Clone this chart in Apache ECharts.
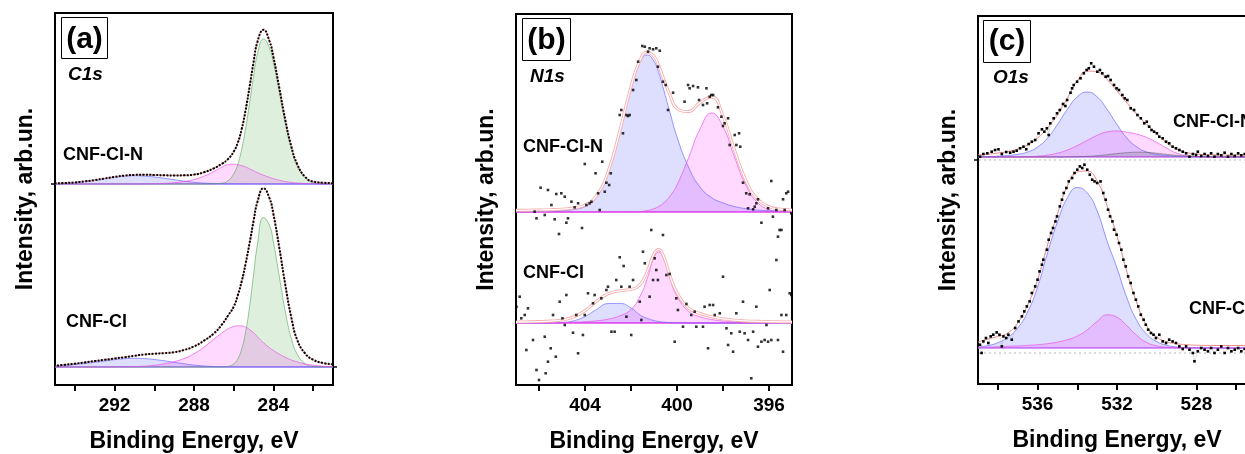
<!DOCTYPE html>
<html><head><meta charset="utf-8">
<script src="https://cdn.jsdelivr.net/npm/echarts@6/dist/echarts.min.js"></script>
<style>html,body{margin:0;padding:0;background:#fff}#c{width:1245px;height:454px}</style>
</head><body><div id="c"></div>
<script>
// ---------- Panel (a) C1s ----------
const xA = [281,281.5,282,282.4,282.8,283.1,283.4,283.7,284,284.2,284.5,284.8,285,285.2,285.4,285.6,285.8,286,286.3,286.6,287,287.5,288,288.5,289,289.5,290,290.5,291,291.5,292,292.5,293,293.5,294,294.5,295];
const aTopEnv   = [0.8,1.3,2.4,7.1,19.7,37.6,63.8,95.7,127,143,154.3,142.4,121.9,97.4,74,54.7,41,32.4,24.6,20.2,15.7,11.7,9.4,8.7,8.6,8.7,9.05,9.2,9.1,8.4,7.1,5.5,3.9,2.6,1.6,1.0,0.6];
const aTopGreen = [0.02,0.22,1.6,6.1,18.2,35.5,60.8,91.5,121.2,135.9,145,130.4,107.8,81.2,55.6,34.6,19.6,10.1,3.1,0.8,0.1,0,0,0,0,0,0,0,0,0,0,0,0,0,0,0,0];
const aTopMag   = [0.05,0.1,0.25,0.5,1.0,1.6,2.5,3.7,5.3,6.6,8.8,11.4,13.3,15.2,17.0,18.4,19.3,19.8,19.3,16.8,12.5,7.8,4.5,2.5,1.3,0.6,0.25,0.1,0.05,0,0,0,0,0,0,0,0];
const aTopBlue  = [0,0,0,0,0,0,0,0,0,0,0,0,0.03,0.04,0.05,0.06,0.08,0.1,0.15,0.25,0.45,0.9,1.7,2.9,4.3,5.7,7.0,7.9,8.3,7.9,6.8,5.3,3.8,2.5,1.5,0.9,0.5];
const aBotEnv   = [2.7,4.0,7.3,13.5,27,49.7,81.9,118.8,152.8,168.9,178.7,165.5,146,124,103.5,85.5,71.5,60.3,51,42.3,33.6,26.3,20.6,17.0,14.8,13.9,13.3,12.5,11.2,9.8,8.5,7.2,5.9,4.6,3.3,2.2,1.2];
const aBotGreen = [0.05,0.15,0.7,3.3,12.7,28.7,55.2,90.1,124.8,141.7,149.4,123.1,92.1,60.5,35,17.8,7.9,3.1,0.6,0.1,0,0,0,0,0,0,0,0,0,0,0,0,0,0,0,0,0];
const aBotMag   = [0.3,0.8,1.9,3.1,5.1,7.0,9.7,12.8,16.5,19.3,24.2,30.1,34.3,37.4,39.9,41.1,41.2,40.5,38.0,33.9,27.9,19.8,13.2,8.5,5.3,3.2,1.7,0.8,0.4,0.2,0.1,0,0,0,0,0,0];
const aBotBlue  = [0,0,0,0,0,0,0,0,0,0,0,0,0.03,0.04,0.05,0.06,0.08,0.1,0.15,0.25,0.5,1.0,1.9,3.2,4.7,6.2,7.5,8.4,8.7,8.3,7.3,6.0,4.7,3.5,2.5,1.7,1.1];
const aTicks  = [282,284,286,288,290,292,294];
const aLabels = [284,288,292];

// ---------- Panel (b) N1s ----------
const xB = [395,395.5,396,396.5,397,397.5,398,398.5,399,399.5,400,400.3,400.6,400.8,401,401.3,401.6,402,402.5,403,403.5,404,404.5,405,405.5,406,406.5,407];
const bTopEnv  = [2.1,2.8,5.3,12.9,31.2,62,96,115,109.5,100.5,103.5,116.5,134.1,146.7,155.5,159.9,152.2,125.4,80,40,16.4,7,4,2.8,2.3,2.0,1.8,1.7];
const bTopBlue = [0.5,0.8,1.3,2.0,3.3,5.5,9.1,14.5,25,45,75,99,124,139.7,150.7,157,150.2,123.7,78.5,38.5,14.9,5.5,2.5,1.3,0.8,0.5,0.3,0.2];
const bTopPink = [0.1,0.5,2.5,9.4,26.4,55,85.4,99,83,54,27,16,8.6,5.5,3.3,1.4,0.5,0.2,0.05,0,0,0,0,0,0,0,0,0];
const bBotEnv  = [1.1,1.2,1.4,1.7,2.1,2.8,4.2,6.3,9.5,14.9,30.4,46.9,67.7,73.5,69.3,51.1,38.8,33.6,32.2,29.2,21.7,12.3,6.0,3.0,1.9,1.4,1.2,1.1];
const bBotPink = [0.1,0.15,0.3,0.45,0.7,1.1,2.0,3.5,6.2,11.7,27,44,65.3,71,65.3,44,27,13.5,7.1,3.8,2.2,1.3,0.8,0.5,0.3,0.2,0.1,0.1];
const bBotBlue = [0,0,0,0,0,0,0,0,0,0.05,0.15,0.4,0.9,1.5,2.5,4.6,7.8,15.1,19.6,19.4,13.5,6.5,2.2,0.5,0.1,0,0,0];
const bTopPts = [[406.19,0.3],[406.11,-6.3],[405.93,24.3],[405.75,-3],[405.61,22],[405.46,7],[405.32,-7.3],[405.25,18],[405.13,-22],[405.03,18.7],[404.88,15.3],[404.81,-10.7],[404.74,-6.3],[404.59,10.3],[404.45,4.7],[404.30,8.7],[404.13,-16],[404.01,48],[403.94,7],[403.80,8.7],[403.72,10.3],[403.54,38.7],[403.43,18.7],[403.36,2],[403.25,50.3],[403.14,20.3],[403.07,29.3],[402.95,27],[402.88,38.7],[402.49,97],[402.42,102],[402.35,78.7],[402.20,97],[402.13,96],[402.06,97],[401.91,122],[401.77,132],[401.69,150.3],[401.51,166],[401.40,165.3],[401.26,160.3],[401.19,163.7],[401.04,162.7],[400.90,163.7],[400.83,145.3],[400.75,161.3],[400.61,130.3],[400.49,127],[400.39,102],[400.17,119.3],[399.67,110.3],[399.52,127],[399.45,123.7],[399.30,126],[399.09,124.7],[399.04,112],[398.87,107],[398.72,123.7],[398.69,108.7],[398.58,115.3],[398.51,117],[398.43,117],[398.22,104.7],[398.07,95.3],[398.0,86],[397.93,88.7],[397.78,93.7],[397.71,67],[397.49,77],[397.42,67],[397.30,78.7],[397.25,65.3],[397.13,29.3],[396.99,18.7],[396.84,17.7],[396.91,3.7],[396.69,2.7],[396.62,5.3],[396.55,8.7],[396.48,12.7],[396.33,-10.7],[396.04,3.7],[395.90,31],[395.83,-4.7],[395.68,2],[395.61,-24.7],[395.54,-18],[395.39,12.7],[395.32,2],[395.25,18.7],[395.17,20.3],[395.03,-1.3],[401.12,-18],[400.61,-23],[395.68,-48],[395.46,-18]];
const bBotPts = [[406.98,16.3],[406.84,26.3],[406.77,4.7],[406.62,8],[406.55,-27],[406.48,14.7],[406.26,-17],[406.11,-47],[406.0,-57],[405.75,-13.7],[405.71,-50.3],[405.61,-38.7],[405.49,-25.3],[405.39,8],[405.27,-33.7],[405.10,21.3],[404.98,4.7],[404.88,-2],[404.81,28],[404.52,-9.7],[404.38,8],[404.30,-30.3],[404.09,-12],[404.01,8],[403.87,29.7],[403.65,19.7],[403.58,28],[403.29,24.7],[403.07,33],[403.0,36.3],[402.85,-8.7],[402.71,-8.7],[402.64,43],[402.49,65.7],[402.42,36.3],[402.32,57],[402.20,6.3],[402.06,36.3],[401.99,-12],[401.91,43],[401.62,21.3],[401.55,3],[401.48,71.3],[401.40,59.7],[401.19,26.3],[401.04,43],[400.97,64.7],[400.90,53],[400.83,43],[400.46,48],[400.32,49],[400.10,-18.7],[400.03,24.7],[399.96,13],[399.74,-3.7],[399.59,19],[399.38,8],[399.23,11.3],[399.16,-3.7],[398.87,-3.7],[398.80,16.3],[398.65,-25.3],[398.58,18],[398.43,18],[398.36,8],[398.14,9.7],[398.0,46.3],[397.85,-5.3],[397.78,-22],[397.64,-10.3],[397.56,-28.7],[397.42,9.7],[397.27,-8.7],[397.13,21.3],[397.06,-10.3],[396.91,-17],[396.77,-55.3],[396.69,-8.7],[396.55,16.3],[396.48,-23.7],[396.33,-18.7],[396.19,-17],[396.11,-2],[396.04,-18.7],[395.97,33],[395.90,-17],[395.61,-17],[395.46,8],[395.39,-28.7],[395.25,8],[395.10,29.7],[395.03,28]];
const bTicks  = [396,398,400,402,404,406];
const bLabels = [396,400,404];

// ---------- Panel (c) O1s ----------
const xC = [525,525.5,526,526.5,527,527.5,528,528.5,529,529.5,530,530.5,531,531.5,532,532.5,533,533.5,534,534.5,535,535.5,536,536.5,537,537.5,538,538.5,539];
const cTopEnv  = [2,2,2,2,2.1,2.4,3,4.5,8,14,23,32.5,42.5,54,66,77.5,85,86,76,59,42,29,19,12,8,5.5,4,2.8,2.2];
const cTopBlue = [0,0,0,0,0.05,0.1,0.2,0.4,0.8,1.5,2.7,5,10,18.9,32.5,47.7,60.2,65,60.2,47.7,32.5,18.9,10,5,2.7,1.5,0.8,0.4,0.2];
const cTopMag  = [0,0,0,0,0,0.1,0.4,1.3,3.9,8.8,14.6,19.4,22.9,24.8,26,25.1,21.6,16.6,11.4,7,3.8,1.9,0.8,0.3,0.1,0,0,0,0];
const cTopGray = [0,0,0,0,0.05,0.16,0.4,0.9,1.7,2.7,3.8,4.6,4.8,4.3,3.4,2.3,1.3,0.65,0.3,0.1,0,0,0,0,0,0,0,0,0];
const cBotEnv  = [2.5,2.5,2.5,2.5,2.5,2.6,2.8,3.3,4.3,6.3,11,22,45,76,112,142,167,177,176,162,134,103,68,43,25,15,11.5,9,6];
const cBotBlue = [0,0,0,0,0,0.1,0.2,0.5,1.1,2.7,6.4,13.7,27.4,50,80,107,137,155,160.5,150,126,95,61,36,20,10.6,5.3,2.4,1.0];
const cBotMag  = [0,0,0,0,0,0.05,0.1,0.2,0.4,0.9,2.2,5.5,12.5,22.2,30.7,33.1,26.6,18.1,12,8.2,5.9,4.3,3.3,2.6,2.1,1.7,1.2,0.9,0.7];
const cZero = [-3, -5];
const cTopPts = [[538.90,0.3],[538.73,3],[538.53,3.7],[538.31,5.3],[538.14,7],[537.97,7.7],[537.80,3],[537.58,5],[537.38,4.3],[537.21,5.3],[537.05,6.3],[536.88,8.7],[536.71,10.3],[536.57,7.7],[536.45,13],[536.29,15.3],[536.12,17],[535.95,23.7],[535.78,27.7],[535.66,25.3],[535.53,28.7],[535.44,22],[535.36,33.7],[535.19,38.7],[535.02,43.7],[534.88,47],[534.72,53],[534.60,51],[534.51,57],[534.34,64.3],[534.26,68.7],[534.18,72],[534.01,75.3],[533.84,78.7],[533.67,83.7],[533.53,87],[533.42,88.7],[533.30,93.7],[533.16,90.3],[532.99,85.3],[532.86,87],[532.74,83.7],[532.57,80.3],[532.45,81],[532.32,77],[532.15,72],[532.02,68.7],[531.90,67],[531.73,62],[531.61,58.7],[531.48,57],[531.31,48.7],[531.14,47],[530.97,42],[530.80,38.7],[530.63,33.7],[530.50,35.3],[530.38,30.3],[530.26,27],[530.13,25.3],[529.99,23.7],[529.87,20.3],[529.70,18.7],[529.53,15.3],[529.37,13.7],[529.20,10.3],[529.03,8.7],[528.86,7],[528.69,5.3],[528.52,3.7],[528.35,0.3],[528.18,3],[528.02,2],[527.93,5.3],[527.76,1],[527.59,3],[527.42,1],[527.26,3.7],[527.09,0.3],[526.92,3],[526.75,1.7],[526.58,4.3],[526.41,0.3],[526.24,3],[526.07,1],[525.90,3.7],[525.74,1.7],[525.57,3]];
const cBotPts = [[538.90,3.3],[538.82,-5],[538.73,6.6],[538.60,10],[538.48,5],[538.36,11.6],[538.23,13.3],[538.06,15.6],[537.92,13.3],[537.80,1.6],[537.72,11.6],[537.58,10],[537.47,13.3],[537.30,8.3],[537.13,20],[536.96,26.6],[536.79,31.6],[536.67,36.6],[536.54,41.6],[536.40,46.6],[536.29,55],[536.12,61.6],[536.0,68.3],[535.90,76.6],[535.78,83.3],[535.71,88.3],[535.53,98.3],[535.44,108.3],[535.32,115],[535.22,120],[535.10,126.6],[535.02,131.6],[534.88,141.6],[534.77,148.3],[534.68,155],[534.55,160],[534.43,166.6],[534.26,170],[534.14,175],[534.0,178.3],[533.87,181.6],[533.75,180],[533.64,183.3],[533.50,178.3],[533.37,173.3],[533.25,168.3],[533.13,166.6],[533.0,165],[532.83,166.6],[532.69,155],[532.57,148.3],[532.45,138.3],[532.35,131.6],[532.23,126.6],[532.15,118.3],[532.02,113.3],[531.90,105],[531.78,98.3],[531.68,88.3],[531.56,81.6],[531.44,71.6],[531.31,65],[531.17,55],[531.05,48.3],[530.93,41.6],[530.80,33.3],[530.66,28.3],[530.55,23.3],[530.43,18.3],[530.29,15],[530.16,13.3],[530.04,10],[529.87,13.3],[529.70,6.6],[529.53,5],[529.37,8.3],[529.20,6.6],[529.03,5],[528.86,1.6],[528.69,-1],[528.52,1.6],[528.35,-1.7],[528.18,-5],[528.10,-13.3],[527.93,-3.3],[527.76,0],[527.59,-1.7],[527.42,-3.3],[527.26,0],[527.09,-5],[526.92,-1.7],[526.75,1.6],[526.58,-5],[526.41,0],[526.24,-3.3],[526.07,-1.7],[525.90,0],[525.74,-3.3],[525.57,-1]];
const cTicks  = [526,528,530,532,534,536,538];
const cLabels = [528,532,536];

const panelTags = ['(a)','(b)','(c)'];
const coreLevels = ['C1s','N1s','O1s'];
const sampleNames = ['CNF-Cl-N','CNF-Cl'];
const xTitle = 'Binding Energy, eV';
const yTitle = 'Intensity, arb.un.';

// ---------- build ----------
const FF = '"Liberation Sans", Arial, sans-serif';
const zip = (xs, ys) => xs.map((x, i) => [x, ys[i]]);
const GREEN = ['rgba(40,150,40,0.22)', 'rgba(70,160,70,0.55)'];
const MAG = ['rgba(255,0,255,0.21)', 'rgba(235,70,235,0.65)'];
const BLUE = ['rgba(40,40,255,0.22)', 'rgba(100,100,255,0.65)'];
const GRAY = ['rgba(90,90,90,0.3)', 'rgba(90,90,90,0.5)'];

function comp(xi, yi, xs, ys, col) {
  return {type:'line', xAxisIndex:xi, yAxisIndex:yi, data:zip(xs, ys), smooth:0.5,
    symbol:'none', showSymbol:false, lineStyle:{color:col[1], width:1}, areaStyle:{color:col[0]},
    z:2, silent:true, animation:false};
}
function env(xi, yi, xs, ys, color, width) {
  return {type:'line', xAxisIndex:xi, yAxisIndex:yi, data:zip(xs, ys), smooth:0.5,
    symbol:'none', showSymbol:false, lineStyle:{color:color, width:width}, z:3, silent:true, animation:false};
}
function dotted(xi, yi, xs, ys) {
  return {type:'line', xAxisIndex:xi, yAxisIndex:yi, data:zip(xs, ys), smooth:0.5,
    symbol:'none', showSymbol:false, lineStyle:{color:'#000', width:2, type:[2,1.4]}, z:4, silent:true, animation:false};
}
function pts(xi, yi, data) {
  return {type:'scatter', xAxisIndex:xi, yAxisIndex:yi, data:data, symbol:'rect', symbolSize:2.6,
    itemStyle:{color:'#000'}, z:5, silent:true, animation:false};
}
function ptsLine(xi, yi, data) {
  return {type:'line', xAxisIndex:xi, yAxisIndex:yi, data:data, symbol:'rect', symbolSize:2.6, showSymbol:true, showAllSymbol:true,
    itemStyle:{color:'#000'}, lineStyle:{color:'#b0b0b0', width:0.8, type:'dotted'}, z:5, silent:true, animation:false};
}
function hline(xi, yi, x0, x1, v, color, width, type) {
  return {type:'line', xAxisIndex:xi, yAxisIndex:yi, data:[[x0, v],[x1, v]], symbol:'none',
    lineStyle:{color:color, width:width, type:type}, z:1, silent:true, animation:false};
}

const grids = [
  {left:55, top:13, width:278, height:372},
  {left:516, top:14, width:276, height:371},
  {left:978, top:16, width:278, height:368}
].map(g => Object.assign(g, {show:true, borderColor:'#000', borderWidth:2, containLabel:false, outerBoundsMode:'none'}));

function xAx(i, min, max, ticks, labels) {
  return {gridIndex:i, type:'value', inverse:true, min:min, max:max,
    axisLine:{show:false, onZero:false}, splitLine:{show:false},
    axisTick:{show:true, customValues:ticks, length:6, lineStyle:{color:'#000', width:2}},
    axisLabel:{customValues:labels, fontSize:19, fontWeight:'bold', color:'#000', margin:11, fontFamily:FF},
    name:xTitle, nameLocation:'middle', nameGap:45,
    nameTextStyle:{fontSize:23, fontWeight:'bold', color:'#000', fontFamily:FF}};
}
function yAx(i, min, max, tickVals, named) {
  const o = {gridIndex:i, type:'value', min:min, max:max,
    axisLine:{show:false, onZero:false}, splitLine:{show:false}, axisLabel:{show:false},
    axisTick:{show:!!tickVals, customValues:tickVals || [], length:4, inside:false, lineStyle:{color:'#000', width:1.5}}};
  if (named) Object.assign(o, {name:yTitle, nameLocation:'middle', nameGap:18,
    nameTextStyle:{fontSize:23, fontWeight:'bold', color:'#000', fontFamily:FF}});
  return o;
}

const xAxes = [xAx(0, 281, 295, aTicks, aLabels), xAx(1, 395, 407, bTicks, bLabels), xAx(2, 525, 539, cTicks, cLabels)];
const yAxes = [
  yAx(0, -201, 171, [0], true), yAx(0, -18, 354, [0], false),
  yAx(1, -173, 198, null, true), yAx(1, -62, 309, null, false),
  yAx(2, -227, 141, [cZero[0]], true), yAx(2, -36, 332, [cZero[1]], false)
];

const BASE_A = 'rgba(150,110,255,0.8)', BASE_B = 'rgba(235,90,235,0.85)', BASE_C = 'rgba(190,90,240,0.8)';
const series = [
  // (a) top
  hline(0,0,281,295,0,BASE_A,1.6,'solid'),
  comp(0,0,xA,aTopBlue,BLUE), comp(0,0,xA,aTopGreen,GREEN), comp(0,0,xA,aTopMag,MAG),
  env(0,0,xA,aTopEnv,'#ef8a8a',1), dotted(0,0,xA,aTopEnv),
  // (a) bottom
  hline(0,1,281,295,0,BASE_A,1.6,'solid'),
  comp(0,1,xA,aBotBlue,BLUE), comp(0,1,xA,aBotGreen,GREEN), comp(0,1,xA,aBotMag,MAG),
  env(0,1,xA,aBotEnv,'#ef8a8a',1), dotted(0,1,xA,aBotEnv),
  // (b) top
  hline(1,2,395,407,0,BASE_B,2,'solid'),
  comp(1,2,xB,bTopBlue,BLUE), comp(1,2,xB,bTopPink,MAG),
  env(1,2,xB,bTopEnv,'#f6b0b0',3), env(1,2,xB,bTopEnv,'#ffffff',1.2), pts(1,2,bTopPts),
  // (b) bottom
  hline(1,3,395,407,0,BASE_B,2,'solid'),
  comp(1,3,xB,bBotBlue,BLUE), comp(1,3,xB,bBotPink,MAG),
  env(1,3,xB,bBotEnv,'#f6b0b0',3), env(1,3,xB,bBotEnv,'#ffffff',1.2), pts(1,3,bBotPts),
  // (c) top
  hline(2,4,525,539,cZero[0],'#b8b8b8',1,[2,3]), hline(2,4,525,539,0,BASE_C,1.5,'solid'),
  comp(2,4,xC,cTopBlue,BLUE), comp(2,4,xC,cTopMag,MAG), comp(2,4,xC,cTopGray,GRAY),
  env(2,4,xC,cTopEnv,'#ef8a8a',1), ptsLine(2,4,cTopPts),
  // (c) bottom
  hline(2,5,525,539,cZero[1],'#b8b8b8',1,[2,3]), hline(2,5,525,539,0,BASE_C,1.5,'solid'),
  comp(2,5,xC,cBotBlue,BLUE), comp(2,5,xC,cBotMag,MAG),
  env(2,5,xC,cBotEnv,'#ef8a8a',1), ptsLine(2,5,cBotPts)
];

function txt(x, y, s, font, align) {
  return {type:'text', x:x, y:y, z:101, silent:true,
    style:{text:s, font:font, fill:'#000', align:align||'left', verticalAlign:'middle', textAlign:align||'left', textVerticalAlign:'middle'}};
}
function box(x, y, w, h) {
  return {type:'rect', z:100, silent:true, shape:{x:x, y:y, width:w, height:h}, style:{fill:'#fff', stroke:'#000', lineWidth:1}};
}
const TAG = 'bold 30px ' + FF, CORE = 'italic bold 19px ' + FF, NAME = 'bold 18px ' + FF;
const graphic = [
  box(61.5,17.5,46,41), txt(84.5,39.5,panelTags[0],TAG,'center'),
  box(522.5,18.5,48,42), txt(546.5,40.5,panelTags[1],TAG,'center'),
  box(983.5,20.5,47,42), txt(1007,42,panelTags[2],TAG,'center'),
  txt(68,75,coreLevels[0],CORE), txt(530,77,coreLevels[1],CORE), txt(993,78,coreLevels[2],CORE),
  txt(63,155,sampleNames[0],NAME), txt(66,322,sampleNames[1],NAME),
  txt(523,147,sampleNames[0],NAME), txt(523,273,sampleNames[1],NAME),
  txt(1173,122,sampleNames[0],NAME), txt(1189,309,sampleNames[1],NAME)
];

const chart = echarts.init(document.getElementById('c'), null, {renderer:'canvas', width:1245, height:454});
chart.setOption({
  animation:false,
  backgroundColor:'#fff',
  textStyle:{fontFamily:FF},
  grid:grids, xAxis:xAxes, yAxis:yAxes, series:series, graphic:graphic
});
</script></body></html>
